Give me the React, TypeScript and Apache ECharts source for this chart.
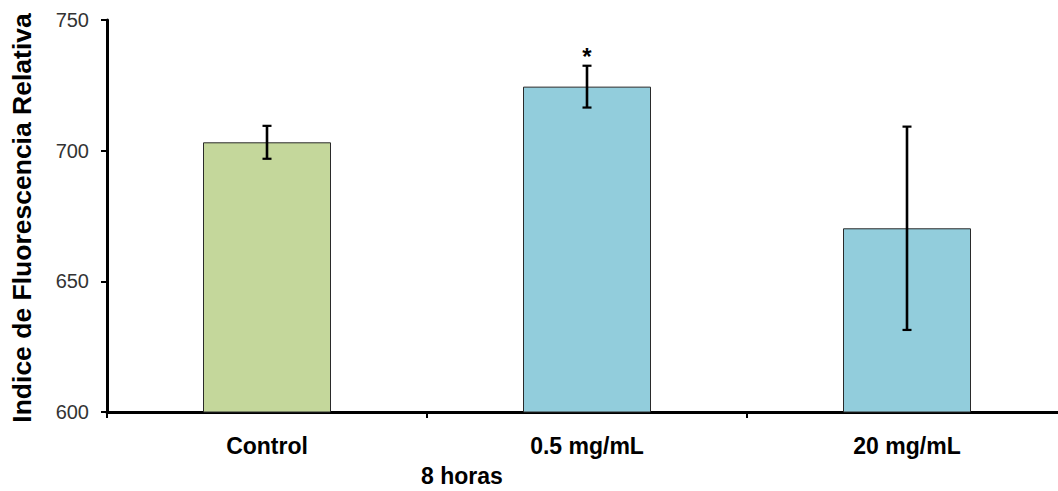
import React, { useEffect, useRef } from "react";
import * as echarts from "echarts";

const categories = ["Control", "0.5 mg/mL", "20 mg/mL"];
const means = [703.2, 724.5, 670.3];
const errors = [6.3, 8.0, 38.9];
const significance = ["", "*", ""];
const barColors = ["#C4D79B", "#92CDDC", "#92CDDC"];
const yMin = 600;
const yMax = 750;
const yStep = 50;
const groupLabel = "8 horas";
const yTitle = "Indice de Fluorescencia Relativa";

const FONT = "'Liberation Sans', Arial, Helvetica, sans-serif";

export default function App() {
  const ref = useRef<HTMLDivElement>(null);
  useEffect(() => {
    if (!ref.current) return;
    const chart = echarts.init(ref.current, undefined, { renderer: "svg" });
    const option: any = {
      animation: false,
      backgroundColor: "#ffffff",
      textStyle: { fontFamily: FONT },
      grid: { left: 107, top: 20, width: 960, height: 392, containLabel: false },
      xAxis: {
        type: "category",
        data: categories,
        boundaryGap: true,
        axisLine: { show: true, lineStyle: { color: "#000", width: 3 } },
        axisTick: { show: true, length: 6, lineStyle: { color: "#000", width: 2 } },
        axisLabel: {
          interval: 0,
          fontSize: 23,
          fontWeight: "bold",
          color: "#000",
          margin: 22,
          fontFamily: FONT,
        },
        splitLine: { show: false },
      },
      yAxis: {
        type: "value",
        min: yMin,
        max: yMax,
        interval: yStep,
        axisLine: { show: true, lineStyle: { color: "#000", width: 3 } },
        axisTick: { show: true, length: 6, lineStyle: { color: "#000", width: 2 } },
        axisLabel: { fontSize: 20, color: "#333", margin: 18, fontFamily: FONT },
        splitLine: { show: false },
      },
      graphic: [
        {
          type: "text",
          x: 22,
          y: 218,
          rotation: Math.PI / 2,
          style: {
            text: yTitle,
            font: `bold 26.5px ${FONT}`,
            fill: "#000",
            textAlign: "center",
            textVerticalAlign: "middle",
          },
        },
        {
          type: "text",
          x: 462,
          y: 476,
          style: {
            text: groupLabel,
            font: `bold 23px ${FONT}`,
            fill: "#000",
            textAlign: "center",
            textVerticalAlign: "middle",
          },
        },
      ],
      series: [
        {
          type: "bar",
          barWidth: "40%",
          data: means.map((v, i) => ({ value: v, itemStyle: { color: barColors[i] } })),
          itemStyle: { borderColor: "#2a2a2a", borderWidth: 1 },
          z: 2,
        },
        {
          type: "custom",
          z: 5,
          data: means.map((m, i) => [i, m - errors[i], m + errors[i]]),
          encode: { x: 0, y: [1, 2] },
          renderItem: (params: any, api: any) => {
            const x = api.value(0);
            const lo = api.coord([x, api.value(1)]);
            const hi = api.coord([x, api.value(2)]);
            const cap = 4.5;
            const st = { stroke: "#000", lineWidth: 2.6 };
            const capSt = { stroke: "#000", lineWidth: 2.2 };
            const children: any[] = [
              { type: "line", shape: { x1: hi[0], y1: hi[1], x2: lo[0], y2: lo[1] }, style: st },
              { type: "line", shape: { x1: hi[0] - cap, y1: hi[1], x2: hi[0] + cap, y2: hi[1] }, style: capSt },
              { type: "line", shape: { x1: lo[0] - cap, y1: lo[1], x2: lo[0] + cap, y2: lo[1] }, style: capSt },
            ];
            const sig = significance[params.dataIndex];
            if (sig) {
              children.push({
                type: "text",
                x: hi[0],
                y: hi[1] - 9,
                style: {
                  text: sig,
                  font: `bold 24px ${FONT}`,
                  fill: "#000",
                  textAlign: "center",
                  textVerticalAlign: "middle",
                },
              });
            }
            return { type: "group", children };
          },
        },
      ],
    };
    chart.setOption(option);
    return () => chart.dispose();
  }, []);
  return (
    <div
      style={{
        position: "absolute",
        left: 0,
        top: 0,
        width: 1058,
        height: 491,
        overflow: "hidden",
        background: "#fff",
      }}
    >
      <div ref={ref} style={{ width: 1075, height: 491 }} />
    </div>
  );
}
